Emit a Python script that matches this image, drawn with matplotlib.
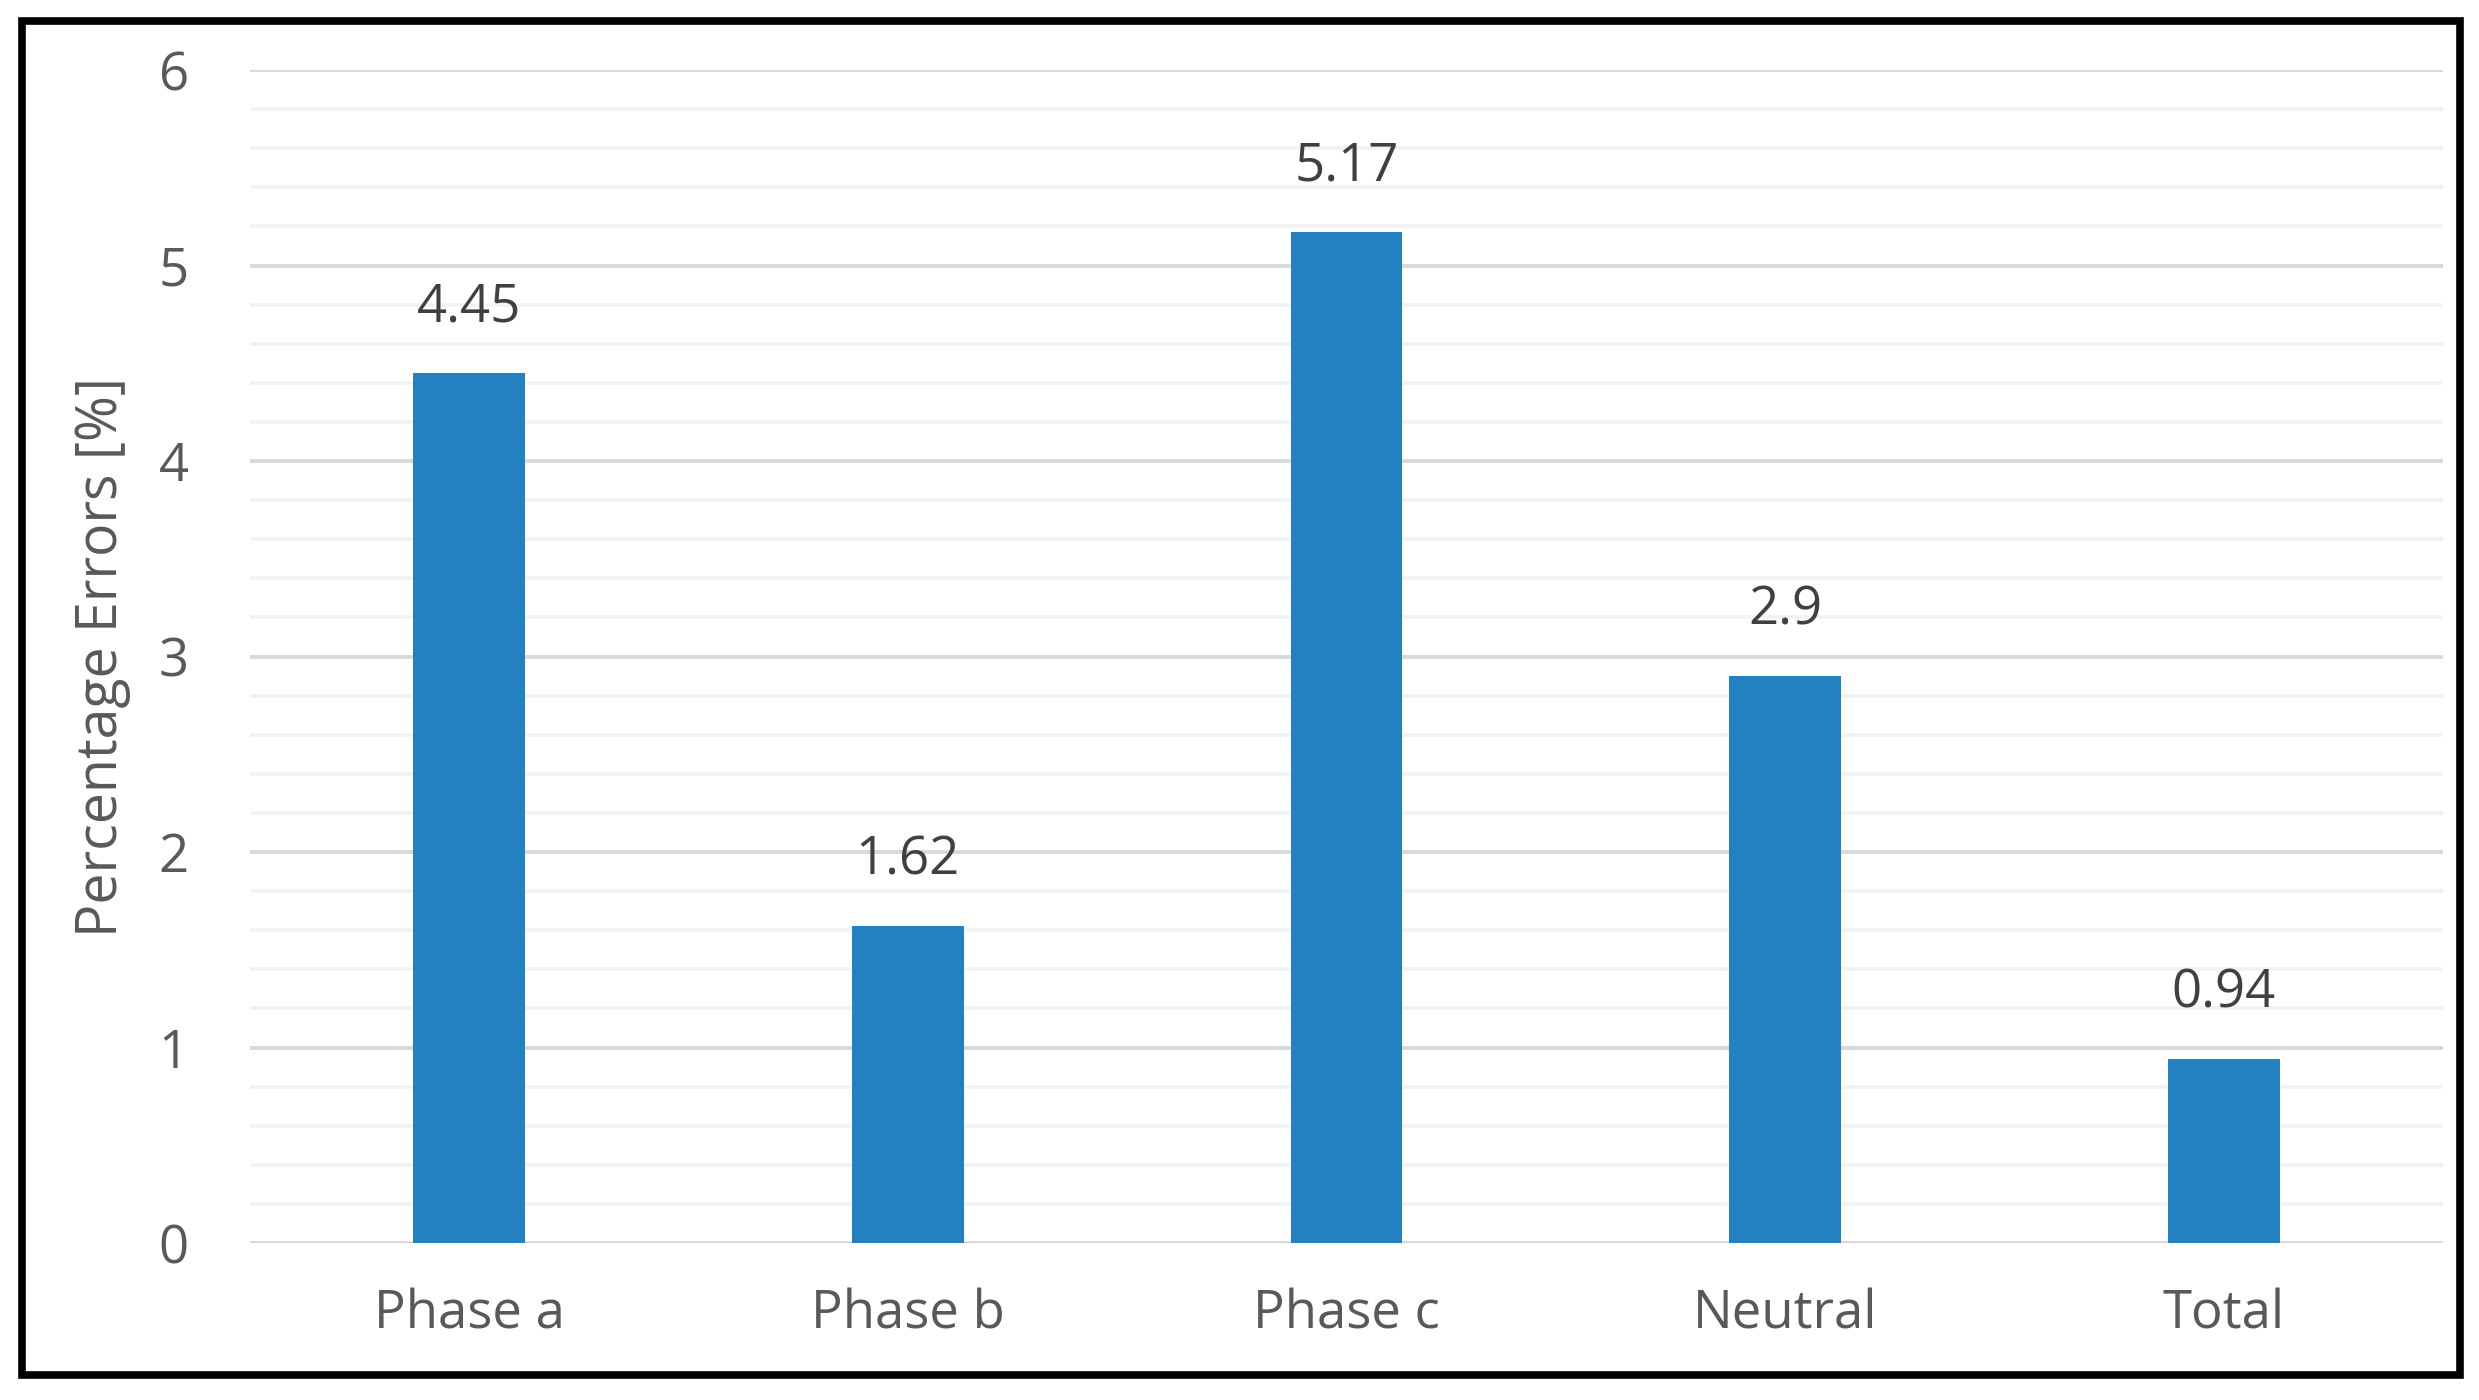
import matplotlib
matplotlib.use("Agg")
import matplotlib.pyplot as plt
from matplotlib.patches import Rectangle
from matplotlib.ticker import MultipleLocator

# data
categories = ["Phase a", "Phase b", "Phase c", "Neutral", "Total"]
errors = [4.45, 1.62, 5.17, 2.9, 0.94]
value_labels = ["4.45", "1.62", "5.17", "2.9", "0.94"]

plt.rcParams['font.family'] = ['Open Sans', 'DejaVu Sans']

fig = plt.figure(figsize=(24.79, 14), dpi=100)
ax = fig.add_axes([0.1008, 0.1121, 0.8847, 0.8379])

ax.bar(range(len(categories)), errors, width=0.255, color='#2481C1', zorder=3)

for i, (v, lab) in enumerate(zip(errors, value_labels)):
    ax.annotate(lab, (i, v), xytext=(0, 37), textcoords='offset points',
                ha='center', va='baseline', fontsize=38, color='#404040')

ax.set_xlim(-0.5, len(categories) - 0.5)
ax.set_ylim(0, 6)
ax.yaxis.set_major_locator(MultipleLocator(1))
ax.yaxis.set_minor_locator(MultipleLocator(0.2))
ax.grid(axis='y', which='major', color='#D9D9D9', lw=2.8, zorder=1)
ax.grid(axis='y', which='minor', color='#F2F2F2', lw=2.6, zorder=0)
ax.set_axisbelow(True)

ax.set_xticks(range(len(categories)))
ax.set_xticklabels(categories)
ax.tick_params(axis='both', which='both', length=0, labelsize=38, labelcolor='#595959')
ax.tick_params(axis='y', pad=44)
ax.tick_params(axis='x', pad=32)

for s in ax.spines.values():
    s.set_visible(False)

ax.set_ylabel('Percentage Errors [%]', fontsize=40, color='#595959', va='center')
ax.yaxis.set_label_coords(-0.067, 0.5)

# outer black frame
fig.patches.append(Rectangle((0.0089, 0.0179), 0.9835, 0.967, transform=fig.transFigure,
                             fill=False, edgecolor='black', lw=5.5))

fig.savefig('out.png', dpi=100)
